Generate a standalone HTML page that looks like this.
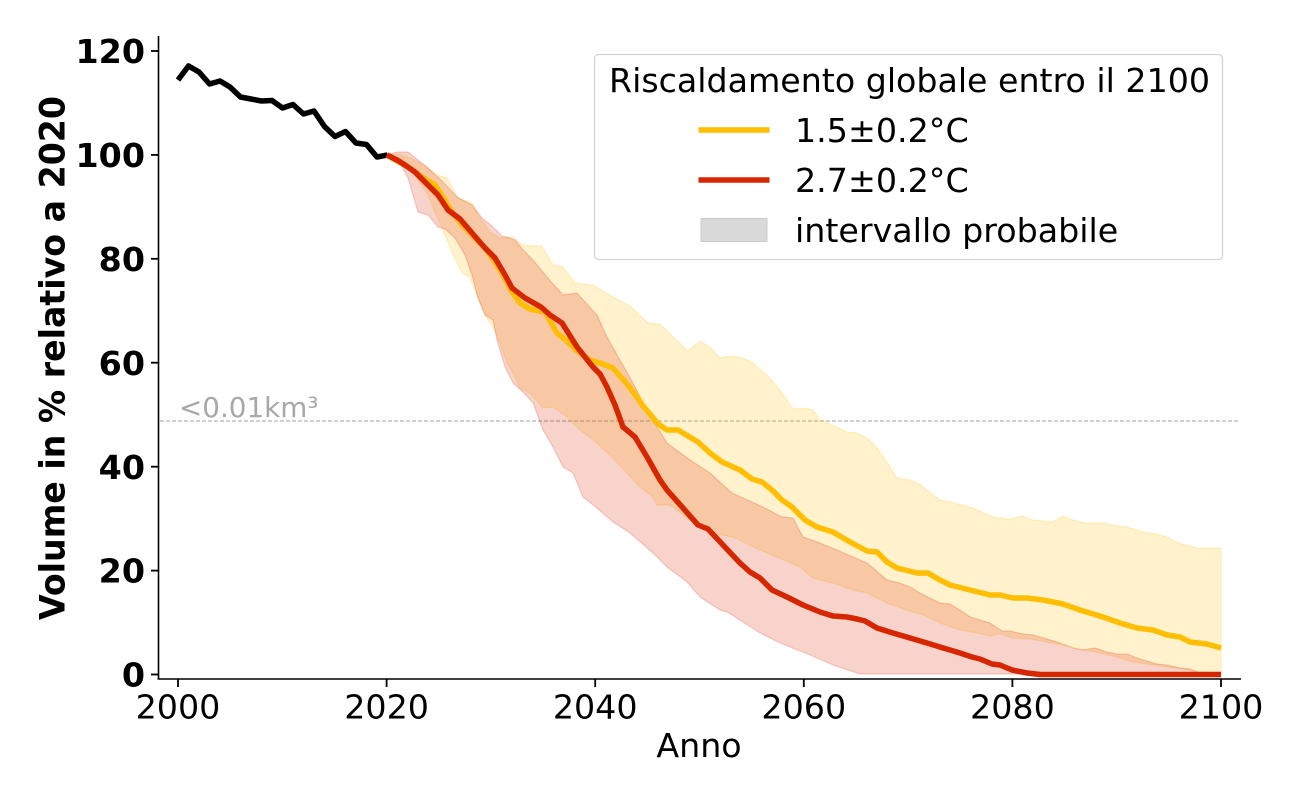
<!DOCTYPE html>
<html>
<head>
<meta charset="utf-8">
<style>
  html, body { margin:0; padding:0; background:#fff; }
  svg { display:block; }
  text { font-family: "DejaVu Sans", "Liberation Sans", sans-serif; }
</style>
</head>
<body>
<svg width="1300" height="800" viewBox="0 0 1300 800" xmlns="http://www.w3.org/2000/svg">
  <rect x="0" y="0" width="1300" height="800" fill="#ffffff"/>

  <!-- dashed threshold line -->
  <line x1="160" y1="421" x2="1240" y2="421" stroke="#b4b4b4" stroke-width="1.2" stroke-dasharray="4,2"/>
  <text x="179" y="417" font-size="27.8" fill="#a8a8a8">&lt;0.01km³</text>

  <!-- yellow band -->
  <polygon fill="rgb(255,192,0)" fill-opacity="0.2" stroke="rgb(255,192,0)" stroke-opacity="0.2" stroke-width="1.2" stroke-linejoin="round"
    points="387,155 397,154 408,157 418,162 428,168 435,174 447,178 458,198 472,203 480,218 490,232 500,238 512,237 523,245 533,246 542,246 553,265 563,267 575,283 593,285 613,297 630,306 648,323 660,324 680,343 688,351 700,341 710,347 720,358 730,356 740,357 752,362 767,375 780,390 793,409 803,408 813,410 820,420 833,425 847,432 857,433 867,438 877,448 887,462 897,478 910,480 918,483 928,491 940,500 950,502 970,507 982,512 993,517 1010,519 1022,516 1032,520 1043,521 1053,522 1063,516 1073,520 1085,523 1103,523 1117,526 1127,527 1147,533 1157,534 1167,537 1178,543 1190,546 1198,548 1221,548
    1221,673.5 1200,672 1183,669 1167,667 1153,665 1133,662 1117,657 1100,653 1083,650 1063,645 1047,642 1030,639 1013,638 1000,634 990,636 977,633 960,630 940,623 923,615 907,610 887,603 867,593 853,590 833,583 813,578 800,567 777,557 760,550 733,537 710,533 690,520 670,505 657,505 653,497 640,487 627,473 613,458 597,443 580,430 567,417 553,407 543,408 530,393 520,388 510,367 507,363 500,343 493,327 485,315 478,298 470,277 462,273 452,252 442,228 436,215 428,195 418,180 408,167 397,158 387,155"/>

  <!-- red band -->
  <polygon fill="rgb(214,36,0)" fill-opacity="0.2" stroke="rgb(214,36,0)" stroke-opacity="0.2" stroke-width="1.2" stroke-linejoin="round"
    points="387,155 397,152 408,152 418,160 428,168 443,182 457,197 472,205 482,218 492,226 502,236 510,238 515,240 523,250 533,260 547,277 563,295 577,293 597,315 607,337 620,360 633,383 647,410 667,443 690,460 710,473 732,493 763,507 782,517 793,518 803,537 820,543 837,550 867,563 887,580 900,583 910,587 920,593 930,598 940,603 950,604 960,610 970,617 980,620 990,623 1002,631 1010,631 1023,634 1033,635 1047,639 1060,643 1073,648 1083,650 1095,648 1107,652 1117,654 1127,654 1140,659 1157,664 1167,665 1180,668 1190,669 1200,673 1221,673.5
    1221,674 860,674 833,665 810,655 780,643 760,633 740,620 727,612 720,610 700,597 687,582 667,567 653,553 630,533 613,522 597,508 583,497 573,473 563,467 553,447 543,430 533,403 523,392 513,383 505,367 497,340 493,320 485,315 478,298 472,275 465,255 455,238 445,229 438,227 428,215 418,212 408,178 397,158 387,155"/>

  <!-- historical black line -->
  <polyline fill="none" stroke="#000000" stroke-width="5.5" stroke-linejoin="round" stroke-linecap="butt"
    points="178,80 188.5,66 199,72 209.5,84 220,81 230,87 240.5,97 251,99 261.5,101 272,100.5 282.5,108 293,104.5 303.5,114 314,111 324.5,126.5 335,136.5 345.5,131.5 356,143 366.5,144.5 377,157 387.5,155"/>

  <!-- yellow median -->
  <polyline fill="none" stroke="#FFBE00" stroke-width="5.5" stroke-linejoin="round" stroke-linecap="butt"
    points="387,155 397,161 408,167 418,174 427,180 435,185 443,197 452,212 462,225 475,238 485,248 495,262 503,275 512,292 520,303 530,309 545,312 557,333 567,341 576,350 590,360 600,363 613,368 620,376 627,384 634,393 643,406 650,414 657,423 667,430 678,430 688,436 698,442 710,453 722,462 740,470 752,479 762,482 772,490 782,500 792,507 805,520 817,527 833,532 850,542 867,551 877,552 887,562 897,568 917,573 928,573 938,579 950,585 970,590 990,595 1000,595 1013,598 1027,598 1043,600 1063,604 1080,610 1103,617 1120,623 1137,628 1153,630 1167,635 1180,637 1190,642 1207,644 1221,648"/>

  <!-- red median -->
  <polyline fill="none" stroke="#D62600" stroke-width="5.5" stroke-linejoin="round" stroke-linecap="butt"
    points="387,155 397,160 405,165 415,172 425,182 438,195 448,210 460,219 472,233 485,248 495,258 505,275 512,288 525,298 541,307 550,315 562,323 577,347 593,367 600,374 607,387 615,405 623,427 635,437 647,457 660,480 667,490 683,508 698,525 708,529 723,545 740,563 750,572 760,578 772,590 787,597 803,605 820,612 833,616 847,617 857,619 865,621 877,628 893,633 910,638 927,643 940,647 950,650 960,653 972,657 980,659 992,664 1000,665 1012,670 1027,673 1040,674.5 1221,674.5"/>

  <!-- spines -->
  <line x1="158.5" y1="36" x2="158.5" y2="679.5" stroke="#000" stroke-width="1.6"/>
  <line x1="157.7" y1="679" x2="1241" y2="679" stroke="#000" stroke-width="1.6"/>

  <!-- y ticks -->
  <g stroke="#000" stroke-width="1.8">
    <line x1="151" y1="674.5" x2="158.5" y2="674.5"/>
    <line x1="151" y1="570.6" x2="158.5" y2="570.6"/>
    <line x1="151" y1="466.7" x2="158.5" y2="466.7"/>
    <line x1="151" y1="362.7" x2="158.5" y2="362.7"/>
    <line x1="151" y1="258.8" x2="158.5" y2="258.8"/>
    <line x1="151" y1="154.9" x2="158.5" y2="154.9"/>
    <line x1="151" y1="51" x2="158.5" y2="51"/>
  </g>
  <g font-size="33.3" font-weight="bold" fill="#000" text-anchor="end">
    <text x="145" y="686.6">0</text>
    <text x="145" y="582.7">20</text>
    <text x="145" y="478.8">40</text>
    <text x="145" y="374.8">60</text>
    <text x="145" y="270.9">80</text>
    <text x="145" y="167">100</text>
    <text x="145" y="63.1">120</text>
  </g>

  <!-- x ticks -->
  <g stroke="#000" stroke-width="1.8">
    <line x1="178" y1="679" x2="178" y2="687"/>
    <line x1="386.6" y1="679" x2="386.6" y2="687"/>
    <line x1="595.2" y1="679" x2="595.2" y2="687"/>
    <line x1="803.8" y1="679" x2="803.8" y2="687"/>
    <line x1="1012.4" y1="679" x2="1012.4" y2="687"/>
    <line x1="1221" y1="679" x2="1221" y2="687"/>
  </g>
  <g font-size="33.3" fill="#000" text-anchor="middle">
    <text x="178" y="718.5">2000</text>
    <text x="386.6" y="718.5">2020</text>
    <text x="595.2" y="718.5">2040</text>
    <text x="803.8" y="718.5">2060</text>
    <text x="1012.4" y="718.5">2080</text>
    <text x="1221" y="718.5">2100</text>
  </g>

  <!-- axis labels -->
  <text x="699" y="757" font-size="33.3" fill="#000" text-anchor="middle">Anno</text>
  <text transform="translate(64.5,358) rotate(-90)" font-size="34.5" font-weight="bold" fill="#000" text-anchor="middle" textLength="524" lengthAdjust="spacingAndGlyphs">Volume in % relativo a 2020</text>

  <!-- legend -->
  <rect x="594.5" y="54.5" width="628" height="205" rx="4" ry="4" fill="#ffffff" fill-opacity="0.85" stroke="#d4d4d4" stroke-width="1.3"/>
  <text x="609" y="92" font-size="33.3" fill="#000" textLength="601" lengthAdjust="spacingAndGlyphs">Riscaldamento globale entro il 2100</text>
  <line x1="698.5" y1="130" x2="769.5" y2="130" stroke="#FFBE00" stroke-width="5.5"/>
  <text x="795" y="142" font-size="33.3" fill="#000">1.5±0.2°C</text>
  <line x1="698.5" y1="180" x2="769.5" y2="180" stroke="#D62600" stroke-width="5.5"/>
  <text x="795" y="192" font-size="33.3" fill="#000">2.7±0.2°C</text>
  <rect x="701" y="218.5" width="66" height="23" fill="#d9d9d9" stroke="#cbcbcb" stroke-width="1"/>
  <text x="795" y="242" font-size="33.3" fill="#000">intervallo probabile</text>
</svg>
</body>
</html>
